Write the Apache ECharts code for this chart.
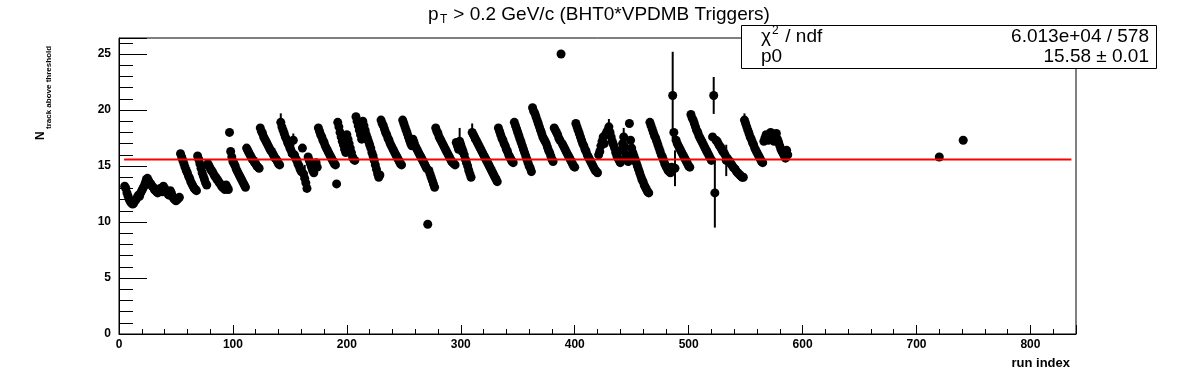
<!DOCTYPE html>
<html><head><meta charset="utf-8">
<script src="https://cdn.jsdelivr.net/npm/echarts@6/dist/echarts.min.js"></script>
<style>html,body{margin:0;padding:0;background:#fff}#c{width:1196px;height:372px}</style>
</head><body><div id="c"></div>
<script>
// ---------- data ----------
const firstRun = 5; // run index of the first value in `values`
const values = [
  13.2,13.0,12.6,12.3,12.0,11.8,11.7,11.6,11.7,11.9,
  12.0,12.2,12.4,12.3,12.6,12.8,13.0,13.2,13.5,13.8,13.9,
  13.7,13.5,13.4,13.2,13.1,12.9,12.8,12.7,12.6,12.8,13.0,12.9,12.7,
  13.2,13.0,12.8,12.7,12.5,12.4,12.8,12.6,12.3,12.1,12.0,11.9,12.0,12.1,12.2,
  16.1,15.8,15.5,15.2,14.9,14.6,14.4,14.1,13.9,13.6,13.4,13.2,13.0,12.9,12.8,
  15.9,15.6,15.2,14.8,14.4,14.1,13.8,13.5,13.3,
  15.2,15.0,14.8,14.6,14.5,14.3,14.1,14.0,13.8,13.7,13.5,13.4,13.2,13.1,13.0,12.9,13.3,13.1,12.9,
  18.0,16.3,15.8,
  15.4,15.2,15.0,14.7,14.5,14.3,14.1,13.9,13.7,13.5,13.3,13.1,
  16.6,16.4,16.2,16.0,15.8,15.6,15.5,15.3,15.2,15.0,14.9,14.8,
  18.4,18.1,17.9,17.6,17.4,17.2,17.0,16.8,16.6,16.4,16.3,16.1,15.9,15.7,15.6,15.4,15.2,15.1,
  18.9,18.5,18.2,17.9,17.6,17.4,17.1,16.9,16.6,16.4,16.1,17.3,16.0,15.7,15.5,15.2,15.0,14.7,14.5,
  16.6,14.3,13.9,13.5,13.0,
  15.8,15.5,15.2,14.9,14.6,14.4,15.0,15.3,14.9,
  18.4,18.1,17.8,17.6,17.3,17.1,16.8,16.6,16.4,16.2,16.0,15.8,15.6,15.4,15.2,15.1,
  13.4,
  18.9,18.5,18.0,17.6,17.2,16.9,16.5,16.2,
  17.8,17.4,17.0,16.6,16.2,15.8,15.6,15.5,
  19.4,19.0,18.6,18.2,17.8,17.4,
  19.0,18.6,18.2,17.8,17.5,17.2,16.9,16.6,16.2,15.9,15.5,15.1,14.7,14.3,14.0,14.2,
  19.1,18.8,18.6,18.3,18.0,17.8,17.5,17.3,17.0,16.8,16.6,16.4,16.2,16.0,15.8,15.6,15.4,15.2,15.1,
  19.1,18.8,18.5,18.2,17.9,17.6,17.3,17.0,16.8,17.4,17.1,16.8,16.6,16.4,16.2,16.0,15.8,15.6,15.4,15.2,15.0,14.8,9.8,14.6,14.3,14.0,13.7,13.4,13.1,
  18.4,18.1,17.9,17.6,17.4,17.2,17.0,16.8,16.6,16.4,16.2,16.0,15.8,15.6,15.4,15.3,15.2,15.1,
  17.1,16.8,16.5,17.2,16.9,16.6,16.3,16.0,15.6,15.3,15.0,14.6,14.3,14.0,
  18.0,17.8,17.6,17.4,17.2,17.0,16.8,16.6,16.4,16.2,16.0,15.8,15.6,15.4,15.2,15.0,14.8,14.6,14.4,14.2,14.0,13.8,13.6,
  18.4,18.1,17.8,17.5,17.3,17.0,16.8,16.5,16.3,16.0,15.8,15.6,15.4,15.3,
  18.9,18.6,18.3,18.0,17.7,17.4,17.1,16.8,16.5,16.2,15.9,15.6,15.3,15.0,14.8,14.5,
  20.2,19.9,19.7,19.4,19.1,18.8,18.5,18.2,17.9,17.6,17.4,17.2,17.0,16.7,16.4,16.2,15.9,15.6,15.4,
  18.4,18.2,18.0,17.8,17.5,17.3,25.0,17.0,16.8,16.6,16.4,16.2,16.0,15.8,15.6,15.4,15.2,15.0,14.9,
  18.8,18.5,18.2,17.9,17.6,17.3,17.0,16.8,16.5,16.3,16.0,15.8,15.6,15.4,15.2,15.0,14.8,14.6,14.5,14.4,
  16.0,16.3,16.8,17.2,17.6,17.0,17.8,18.0,18.2,18.5,
  18.0,17.6,17.2,16.9,16.6,16.2,15.9,15.7,15.5,15.3,
  16.4,17.0,17.6,16.7,16.0,15.6,15.4,
  18.8,17.3,16.6,16.2,15.9,15.6,15.3,15.0,14.7,14.4,14.1,13.8,13.6,13.3,13.1,12.9,12.7,12.6,
  18.9,18.6,18.3,18.0,17.7,17.5,17.2,16.9,16.6,16.3,16.0,15.8,15.5,15.2,15.0,14.8,14.6,14.5,14.4,14.9,
  21.3,18.0,14.8,
  17.3,17.0,16.8,16.6,16.4,16.2,16.0,15.8,15.6,15.4,15.2,15.0,14.9,
  19.6,19.3,19.1,18.8,18.5,18.2,18.0,17.7,17.5,17.3,17.1,16.9,16.7,16.5,16.3,16.1,15.9,15.7,15.5,
  17.6,21.3,12.6,17.3,
  17.2,17.0,16.8,16.7,16.5,16.3,16.2,16.0,15.5,15.7,15.5,15.4,15.2,15.1,14.9,14.8,14.7,14.5,14.4,14.3,14.2,14.1,14.0,14.0,
  19.1,18.8,18.5,18.2,17.9,17.6,17.4,17.1,16.9,16.6,16.4,16.2,16.0,15.8,15.6,15.4,15.3,
  17.2,17.5,17.8,17.6,17.3,17.7,18.0,17.8,17.5,17.2,17.6,17.9,17.4,17.1,16.8,16.5,16.3,16.1,15.9,15.7,16.4,16.0
];
const extraRuns = [720, 741];
const extraValues = [15.8, 17.3];
// points whose error bar is visible beyond the marker
const errRuns  = [142, 153, 163, 299, 310, 362, 430, 443, 480, 486, 488, 522, 523, 533, 549];
const errSizes = [0.8, 0.6, 1.2, 1.2, 0.8, 0.4, 0.7, 0.8, 0.6, 3.9, 1.6, 1.65, 3.1, 1.4, 0.6];
const fitValue = 15.58;
const fitFrom = 4.5, fitTo = 836;
const titleMain = ' > 0.2 GeV/c (BHT0*VPDMB Triggers)';
const statLabels = ['\u03c7', ' / ndf', 'p0'];
const statValues = ['6.013e+04 / 578', '15.58 \u00b1 0.01'];

// ---------- build ----------
const points = values.map((v, i) => [firstRun + i, v])
  .concat(extraRuns.map((r, i) => [r, extraValues[i]]));
const errData = errRuns.map((r, i) => [r, values[r - firstRun], errSizes[i]]);

const FONT = "'Liberation Sans', Arial, sans-serif";
const lab = {color: '#000', fontFamily: FONT, fontWeight: 'bold', fontSize: 12};

const chart = echarts.init(document.getElementById('c'), null, {renderer: 'canvas'});
chart.setOption({
  animation: false,
  backgroundColor: '#fff',
  grid: {left: 119, top: 38, width: 957, height: 296, show: true, borderColor: '#000', borderWidth: 1, backgroundColor: 'transparent'},
  xAxis: {
    type: 'value', min: 0, max: 840, interval: 100,
    axisLine: {show: true, onZero: false, lineStyle: {color: '#000', width: 1}},
    axisTick: {show: true, inside: true, length: 9, lineStyle: {color: '#000'}},
    minorTick: {show: true, splitNumber: 5, length: 5, lineStyle: {color: '#000'}},
    splitLine: {show: false},
    axisLabel: Object.assign({margin: 5, showMaxLabel: false}, lab)
  },
  yAxis: {
    type: 'value', min: 0, max: 26.43, interval: 5,
    axisLine: {show: true, onZero: false, lineStyle: {color: '#000', width: 1}},
    axisTick: {show: true, inside: true, length: 28, lineStyle: {color: '#000'}},
    minorTick: {show: true, splitNumber: 5, length: 14, lineStyle: {color: '#000'}},
    splitLine: {show: false},
    axisLabel: Object.assign({margin: 8, showMaxLabel: false}, lab)
  },
  series: [
    {
      type: 'custom', z: 3,
      renderItem: function (params, api) {
        const x = api.value(0), y = api.value(1), e = api.value(2);
        const a = api.coord([x, y + e]), b = api.coord([x, y - e]);
        return {type: 'line', shape: {x1: a[0], y1: a[1], x2: b[0], y2: b[1]},
                style: {stroke: '#000', lineWidth: 2}};
      },
      encode: {x: 0, y: 1},
      data: errData
    },
    {
      type: 'scatter', z: 4, symbol: 'circle', symbolSize: 9,
      itemStyle: {color: '#000', opacity: 1},
      emphasis: {disabled: true},
      data: points
    },
    {
      type: 'line', z: 5, symbol: 'none',
      lineStyle: {color: '#ff0000', width: 2},
      data: [[fitFrom, fitValue], [fitTo, fitValue]]
    }
  ],
  graphic: [
    // title
    {type: 'text', left: 428, top: 5, z: 10, style: {text: 'p', font: '19px ' + FONT, fill: '#000'}},
    {type: 'text', left: 440, top: 14, z: 10, style: {text: 'T', font: '12px ' + FONT, fill: '#000'}},
    {type: 'text', left: 448, top: 5, z: 10, style: {text: titleMain, font: '19px ' + FONT, fill: '#000'}},
    // y axis title (rotated)
    {type: 'text', x: 41, y: 140, rotation: Math.PI / 2, z: 10,
     style: {text: 'N', font: 'bold 12px ' + FONT, fill: '#000', align: 'left', verticalAlign: 'middle'}},
    {type: 'text', x: 49, y: 129, rotation: Math.PI / 2, z: 10,
     style: {text: 'track above threshold', font: 'bold 8px ' + FONT, fill: '#000', align: 'left', verticalAlign: 'middle'}},
    // x axis title
    {type: 'text', right: 126, top: 357, z: 10, style: {text: 'run index', font: 'bold 13px ' + FONT, fill: '#000'}},
    // stats box
    {type: 'rect', shape: {x: 741.5, y: 25.5, width: 415, height: 43}, z: 20,
     style: {fill: '#fff', stroke: '#000', lineWidth: 1}},
    {type: 'text', x: 761, y: 37, z: 21, style: {text: statLabels[0], font: '19px ' + FONT, fill: '#000', verticalAlign: 'middle'}},
    {type: 'text', x: 772, y: 31, z: 21, style: {text: '2', font: '12px ' + FONT, fill: '#000', verticalAlign: 'middle'}},
    {type: 'text', x: 780, y: 37, z: 21, style: {text: statLabels[1], font: '19px ' + FONT, fill: '#000', verticalAlign: 'middle'}},
    {type: 'text', x: 761, y: 57, z: 21, style: {text: statLabels[2], font: '19px ' + FONT, fill: '#000', verticalAlign: 'middle'}},
    {type: 'text', x: 1149, y: 37, z: 21, style: {text: statValues[0], font: '19px ' + FONT, fill: '#000', align: 'right', verticalAlign: 'middle'}},
    {type: 'text', x: 1149, y: 57, z: 21, style: {text: statValues[1], font: '19px ' + FONT, fill: '#000', align: 'right', verticalAlign: 'middle'}}
  ]
});
</script>
</body></html>
